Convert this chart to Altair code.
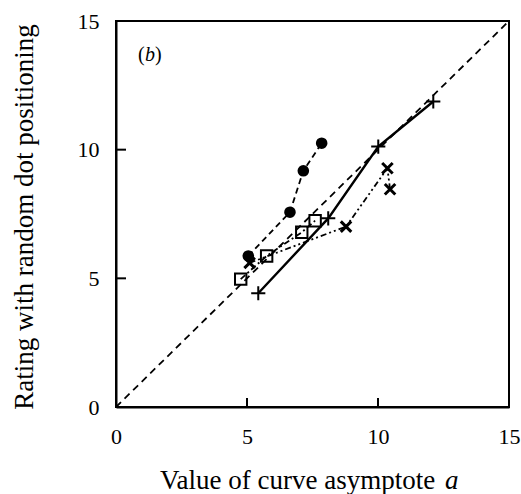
import altair as alt
import pandas as pd

# ---- data ----
circ_x = [5.05, 6.64, 7.15, 7.85]
circ_y = [5.87, 7.57, 9.18, 10.25]
plus_x = [5.43, 8.10, 10.01, 12.11]
plus_y = [4.42, 7.33, 10.12, 11.87]
sq_x = [4.76, 5.75, 7.09, 7.60]
sq_y = [4.97, 5.87, 6.79, 7.24]
cross_x = [5.10, 8.78, 10.36, 10.46]
cross_y = [5.60, 7.01, 9.28, 8.46]
diag = [0, 15]
tick_vals = [0, 5, 10, 15]
inner_ticks = [5, 10]

W, H = 393, 386
FONT = "Liberation Serif"

xs = alt.Scale(domain=[0, 15], nice=False)
ys = alt.Scale(domain=[0, 15], nice=False)

xaxis = alt.Axis(values=tick_vals, ticks=False, grid=False, labelFlush=False,
                 labelFont=FONT, labelFontSize=22, labelColor="black",
                 labelPadding=19, domainColor="black", domainWidth=2,
                 title=None, format="d")
yaxis = alt.Axis(values=tick_vals, ticks=False, grid=False, labelFlush=False,
                 labelFont=FONT, labelFontSize=22, labelColor="black",
                 labelPadding=17, domainColor="black", domainWidth=2,
                 title=None, format="d")


def X():
    return alt.X("x:Q", scale=xs, axis=xaxis)


def Y():
    return alt.Y("y:Q", scale=ys, axis=yaxis)


def df(x, y):
    return pd.DataFrame({"x": x, "y": y})


layers = []

# diagonal y = x
layers.append(alt.Chart(df(diag, diag)).mark_line(
    color="black", strokeWidth=1.8, strokeDash=[7, 5]).encode(x=X(), y=Y()))

# circles, dashed
d = df(circ_x, circ_y)
layers.append(alt.Chart(d).mark_line(color="black", strokeWidth=1.8,
                                     strokeDash=[6, 4]).encode(x=X(), y=Y()))
layers.append(alt.Chart(d).mark_point(shape="circle", filled=True, color="black",
                                      size=135, opacity=1).encode(x=X(), y=Y()))

# plus, solid
d = df(plus_x, plus_y)
layers.append(alt.Chart(d).mark_line(color="black", strokeWidth=2.4).encode(x=X(), y=Y()))
layers.append(alt.Chart(d).mark_point(shape="M-1,0L1,0M0,-1L0,1", filled=False,
                                      color="black", strokeWidth=2, size=200,
                                      opacity=1).encode(x=X(), y=Y()))

# squares, dash-dot
d = df(sq_x, sq_y)
layers.append(alt.Chart(d).mark_line(color="black", strokeWidth=1.8,
                                     strokeDash=[6, 3, 2, 3]).encode(x=X(), y=Y()))
layers.append(alt.Chart(d).mark_point(shape="square", filled=False, color="black",
                                      strokeWidth=2, size=130,
                                      opacity=1).encode(x=X(), y=Y()))

# crosses, dash-dot-dot
d = df(cross_x, cross_y)
layers.append(alt.Chart(d).mark_line(color="black", strokeWidth=1.8,
                                     strokeDash=[6, 3, 2, 3, 2, 3]).encode(x=X(), y=Y()))
layers.append(alt.Chart(d).mark_point(shape="M-1,-1L1,1M-1,1L1,-1", filled=False,
                                      color="black", strokeWidth=3, size=110,
                                      opacity=1).encode(x=X(), y=Y()))

# inward ticks
tx = pd.DataFrame({"x": inner_ticks})
layers.append(alt.Chart(tx).mark_rule(color="black", strokeWidth=2).encode(
    x=X(), y=alt.value(H), y2=alt.value(H - 9)))
ty = pd.DataFrame({"y": inner_ticks})
layers.append(alt.Chart(ty).mark_rule(color="black", strokeWidth=2).encode(
    y=Y(), x=alt.value(0), x2=alt.value(10)))


def label(txt, x, y, size, align="center", style="normal", angle=0):
    return alt.Chart(pd.DataFrame({"t": [txt]})).mark_text(
        font=FONT, fontSize=size, fontStyle=style, color="black",
        align=align, baseline="middle", angle=angle).encode(
        text="t:N", x=alt.value(x), y=alt.value(y))


layers.append(label("Rating with random dot positioning", -91, 196, 27, angle=270))
layers.append(label("Value of curve asymptote", 44, 460, 27, align="left"))
layers.append(label("a", 329, 460, 27, align="left", style="italic"))
layers.append(label("(", 22, 34, 20, align="left"))
layers.append(label("b", 29, 34, 20, align="left", style="italic"))
layers.append(label(")", 39, 34, 20, align="left"))

chart = alt.layer(*layers).properties(
    width=W, height=H,
    autosize=alt.AutoSizeParams(type="none"),
    padding={"left": 116, "top": 21, "right": 12, "bottom": 87},
    background="white",
).configure_view(stroke="black", strokeWidth=2)

chart.save("out.html", embed_options={"renderer": "svg", "actions": False})
